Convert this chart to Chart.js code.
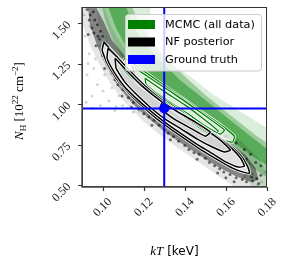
<!DOCTYPE html>
<html><head><meta charset="utf-8">
<script src="https://cdn.jsdelivr.net/npm/chart.js@4"></script>
<style>html,body{margin:0;padding:0;background:#fff}canvas{display:block}</style>
</head><body>
<canvas id="c" width="287" height="270"></canvas>
<script>
// ---------- axes ----------
const xRange = [0.09, 0.18];
const yRange = [0.488, 1.60];
const xTicks = [0.10, 0.12, 0.14, 0.16, 0.18];
const yTicks = [0.50, 0.75, 1.00, 1.25, 1.50];
const xTickLabels = ['0.10', '0.12', '0.14', '0.16', '0.18'];
const yTickLabels = ['0.50', '0.75', '1.00', '1.25', '1.50'];
const legendLabels = ['MCMC (all data)', 'NF posterior', 'Ground truth'];

// ---------- ground truth ----------
const truthKT = 0.13;
const truthNH = 0.973;

// ---------- MCMC sample cloud (kT, NH) ----------
const mcmcCloudFaint = [[0.0968,1.599],[0.1232,1.599],[0.1232,1.395],[0.1354,1.235],[0.1451,1.148],[0.1534,1.062],[0.1646,0.975],[0.1744,0.895],[0.182,0.840],[0.182,0.48],[0.1729,0.488],[0.1671,0.580],[0.1598,0.679],[0.1500,0.778],[0.1402,0.864],[0.1305,0.951],[0.1207,1.049],[0.1124,1.160],[0.1061,1.272],[0.1012,1.395],[0.0978,1.506]];
const mcmcCloudMid = [[0.0998,1.599],[0.1144,1.599],[0.1183,1.488],[0.1280,1.321],[0.1388,1.185],[0.1500,1.056],[0.1622,0.932],[0.1744,0.809],[0.182,0.741],[0.182,0.531],[0.1744,0.593],[0.1661,0.685],[0.1573,0.778],[0.1476,0.864],[0.1378,0.951],[0.1280,1.037],[0.1183,1.148],[0.1105,1.272],[0.1046,1.407],[0.1012,1.519]];
const mcmcCloudDense = [[0.1027,1.599],[0.1115,1.599],[0.1159,1.457],[0.1256,1.302],[0.1378,1.148],[0.1500,1.025],[0.1622,0.901],[0.1744,0.778],[0.182,0.704],[0.182,0.605],[0.1720,0.685],[0.1622,0.778],[0.1515,0.877],[0.1407,0.975],[0.1305,1.074],[0.1207,1.198],[0.1124,1.333],[0.1066,1.469]];
const mcmcStray = [[0.0915,1.42],[0.0935,1.31],[0.0958,1.22],[0.0925,1.18],[0.0975,1.12],[0.0948,1.05],[0.1002,1.08],[0.1030,1.02],[0.0990,0.99],[0.1065,0.985],[0.1098,0.99],[0.1120,0.975],[0.0920,1.01],[0.0965,1.28],[0.1010,1.18],[0.1045,1.10],[0.0940,1.48],[0.0910,1.55],[0.1150,0.95],[0.1080,1.05],[0.0985,1.36],[0.0930,1.25],[0.1060,0.96],[0.0950,0.975],[0.1180,0.955],[0.1690,0.55],[0.1730,0.57],[0.1775,0.52],[0.1790,0.58],[0.1755,0.50]];

// ---------- NF sample cloud ----------
const nfCloudFaint = [[0.089,1.60],[0.1007,1.599],[0.1046,1.469],[0.1095,1.364],[0.1183,1.241],[0.1280,1.117],[0.1378,1.025],[0.1476,0.944],[0.1583,0.852],[0.1680,0.765],[0.1759,0.667],[0.1798,0.580],[0.1798,0.48],[0.1651,0.48],[0.1563,0.556],[0.1466,0.642],[0.1368,0.728],[0.1280,0.809],[0.1193,0.901],[0.1115,1.000],[0.1046,1.111],[0.0988,1.235],[0.0939,1.364],[0.0905,1.488]];
const nfCloudDense = [[0.0968,1.599],[0.1007,1.506],[0.1046,1.395],[0.1105,1.302],[0.1168,1.179],[0.1241,1.086],[0.1315,1.012],[0.1388,0.951],[0.1466,0.889],[0.1544,0.827],[0.1622,0.759],[0.1695,0.685],[0.1744,0.605],[0.1759,0.531],[0.1720,0.519],[0.1646,0.556],[0.1563,0.611],[0.1476,0.679],[0.1388,0.753],[0.1305,0.827],[0.1222,0.914],[0.1144,1.006],[0.1076,1.111],[0.1017,1.235],[0.0973,1.364],[0.0939,1.488],[0.0929,1.599]];
const nfStray = [[0.0925,1.585],[0.0940,1.55],[0.0955,1.57],[0.0962,1.52],[0.0975,1.49],[0.0948,1.47],[0.0990,1.45],[0.1000,1.42],[0.0985,1.40],[0.1015,1.38],[0.0930,1.43],[0.0968,1.36],[0.1000,1.30],[0.1020,1.26],[0.1010,1.22],[0.1045,1.19],[0.1060,1.15],[0.1075,1.12],[0.1100,1.09],[0.1095,1.05],[0.1125,1.04],[0.1150,1.01],[0.1140,0.98],[0.1175,0.97],[0.1200,0.94],[0.1225,0.92],[0.1250,0.90],[0.1240,0.87],[0.1275,0.87],[0.1300,0.84],[0.1320,0.82],[0.1345,0.80],[0.1330,0.78],[0.1370,0.77],[0.1400,0.745],[0.1420,0.72],[0.1445,0.70],[0.1470,0.69],[0.1460,0.66],[0.1500,0.665],[0.1520,0.64],[0.1545,0.62],[0.1570,0.60],[0.1590,0.58],[0.1560,0.575],[0.1620,0.565],[0.1650,0.545],[0.1680,0.535],[0.1700,0.52],[0.1730,0.525],[0.1750,0.54],[0.1770,0.56],[0.1760,0.51],[0.1640,0.52],[0.1600,0.545],[0.1600,0.80],[0.1650,0.76],[0.1690,0.72],[0.1720,0.69],[0.1660,0.70],[0.1580,0.83],[0.1745,0.64],[0.1700,0.66],[0.1770,0.62],[0.1630,0.73],[0.0935,1.52],[0.0958,1.44],[0.0978,1.42],[0.1005,1.35],[0.1030,1.30],[0.1040,1.24],[0.1068,1.21],[0.1085,1.16],[0.1110,1.12],[0.1130,1.08],[0.1160,1.05],[0.1190,1.00],[0.1215,0.975],[0.1265,0.93],[0.1290,0.895],[0.1335,0.86],[0.1375,0.83],[0.1410,0.79],[0.1450,0.76],[0.1490,0.73],[0.1530,0.70],[0.1575,0.66],[0.1615,0.62],[0.1655,0.59],[0.1700,0.57],[0.1725,0.55]];

// ---------- NF posterior contours ----------
const nfContour4 = [[0.1007,1.383],[0.1051,1.321],[0.1105,1.247],[0.1168,1.160],[0.1241,1.074],[0.1315,1.000],[0.1388,0.938],[0.1466,0.877],[0.1544,0.815],[0.1612,0.753],[0.1671,0.685],[0.1705,0.617],[0.1715,0.574],[0.1685,0.580],[0.1632,0.605],[0.1563,0.654],[0.1490,0.710],[0.1417,0.772],[0.1339,0.840],[0.1266,0.907],[0.1193,0.988],[0.1124,1.074],[0.1066,1.160],[0.1022,1.253],[0.0998,1.333]];
const nfContour3 = [[0.1027,1.346],[0.1076,1.284],[0.1134,1.204],[0.1198,1.123],[0.1271,1.043],[0.1344,0.975],[0.1417,0.914],[0.1495,0.852],[0.1568,0.790],[0.1627,0.728],[0.1671,0.667],[0.1690,0.617],[0.1661,0.611],[0.1602,0.642],[0.1539,0.691],[0.1466,0.747],[0.1393,0.809],[0.1315,0.877],[0.1241,0.951],[0.1168,1.031],[0.1105,1.111],[0.1056,1.198],[0.1022,1.284]];
const nfContour2 = [[0.1061,1.284],[0.1124,1.198],[0.1193,1.111],[0.1271,1.031],[0.1349,0.963],[0.1427,0.901],[0.1505,0.840],[0.1573,0.778],[0.1622,0.716],[0.1593,0.704],[0.1534,0.735],[0.1461,0.784],[0.1383,0.846],[0.1305,0.907],[0.1232,0.981],[0.1163,1.062],[0.1105,1.142],[0.1066,1.222]];
const nfContour1 = [[0.1290,1.012],[0.1368,0.951],[0.1451,0.889],[0.1524,0.827],[0.1500,0.802],[0.1427,0.852],[0.1349,0.907],[0.1280,0.975]];

// ---------- MCMC contours ----------
const mcmcContour3 = [[0.1110,1.284],[0.1207,1.198],[0.1305,1.111],[0.1402,1.025],[0.1500,0.938],[0.1583,0.864],[0.1641,0.802],[0.1632,0.765],[0.1563,0.790],[0.1476,0.852],[0.1388,0.926],[0.1295,1.006],[0.1207,1.093],[0.1124,1.185],[0.1085,1.247]];
const mcmcContour2 = [[0.1144,1.235],[0.1232,1.160],[0.1329,1.080],[0.1427,0.994],[0.1515,0.914],[0.1593,0.840],[0.1573,0.815],[0.1500,0.864],[0.1417,0.938],[0.1320,1.019],[0.1232,1.099],[0.1159,1.173]];
const mcmcContour1 = [[0.1207,1.160],[0.1305,1.074],[0.1402,0.994],[0.1500,0.901],[0.1563,0.833],[0.1544,0.815],[0.1476,0.864],[0.1388,0.951],[0.1290,1.037],[0.1212,1.123]];

// ---------- colours ----------
const GREEN = '#008000', BLUE = '#0000ff';

const layers = [];
function toXY(pts, close) {
  const d = pts.map(p => ({x: p[0], y: p[1]}));
  if (close) d.push({x: pts[0][0], y: pts[0][1]});
  return d;
}
function polyFill(pts, color) {
  layers.push({type: 'line', data: toXY(pts, true), borderWidth: 0, borderColor: 'rgba(0,0,0,0)',
    backgroundColor: color, fill: 'shape', pointRadius: 0, tension: 0});
}
function polyLine(pts, color, w) {
  layers.push({type: 'line', data: toXY(pts, true), borderWidth: w, borderColor: color,
    fill: false, pointRadius: 0, tension: 0.15, borderJoinStyle: 'round'});
}
function dots(pts, color, r) {
  layers.push({type: 'line', data: toXY(pts, false), showLine: false, pointRadius: r,
    pointBorderWidth: 0, pointBackgroundColor: color, pointBorderColor: color});
}

polyFill(mcmcCloudFaint, 'rgba(0,128,0,0.14)');
polyFill(mcmcCloudMid, 'rgba(0,128,0,0.30)');
polyFill(mcmcCloudDense, 'rgba(0,128,0,0.42)');
dots(mcmcStray, 'rgba(0,128,0,0.25)', 1.4);
polyFill(nfCloudFaint, 'rgba(0,0,0,0.10)');
polyFill(nfCloudDense, 'rgba(0,0,0,0.42)');
dots(nfStray, 'rgba(0,0,0,0.55)', 1.5);
polyFill(mcmcContour3, 'rgba(255,255,255,0.75)');
polyFill(nfContour4, '#e0e0e0');
polyFill(nfContour2, '#d2d2d2');
[mcmcContour3, mcmcContour2, mcmcContour1].forEach(c => { polyLine(c, 'rgba(255,255,255,0.9)', 3); polyLine(c, GREEN, 1.3); });
[nfContour4, nfContour3, nfContour2, nfContour1].forEach(c => { polyLine(c, 'rgba(255,255,255,0.9)', 3.2); polyLine(c, '#000', 1.5); });
layers.push({type: 'line', data: [{x: xRange[0], y: truthNH}, {x: xRange[1], y: truthNH}], borderColor: BLUE, borderWidth: 2, pointRadius: 0, fill: false});
layers.push({type: 'line', data: [{x: truthKT, y: yRange[0]}, {x: truthKT, y: yRange[1]}], borderColor: BLUE, borderWidth: 2, pointRadius: 0, fill: false});
layers.push({type: 'line', data: [{x: truthKT, y: truthNH}], showLine: false, pointRadius: 5, pointBackgroundColor: BLUE, pointBorderWidth: 0});
layers.forEach((d, i) => { d.order = 1000 - i; });

const SERIF = '"Liberation Serif", "DejaVu Serif", serif';
const SANS = '"DejaVu Sans", sans-serif';

function drawRuns(ctx, runs, cx, baseY) {
  let total = 0;
  runs.forEach(r => { ctx.font = r.font; r.w = ctx.measureText(r.t).width; total += r.w; });
  let x = cx - total / 2;
  runs.forEach(r => { ctx.font = r.font; ctx.fillText(r.t, x, baseY + (r.dy || 0)); x += r.w; });
}

const decor = {
  id: 'decor',
  afterDraw(chart) {
    const ctx = chart.ctx, a = chart.chartArea;
    const xs = chart.scales.x, ys = chart.scales.y;
    ctx.save();
    // frame
    ctx.strokeStyle = '#333'; ctx.lineWidth = 1;
    ctx.strokeRect(a.left + 0.5, a.top + 0.5, a.right - a.left - 1, a.bottom - a.top - 1);
    ctx.lineWidth = 1.4; ctx.strokeStyle = '#444';
    ctx.beginPath(); ctx.moveTo(a.left, a.top); ctx.lineTo(a.left, a.bottom); ctx.lineTo(a.right, a.bottom); ctx.stroke();
    // tick marks
    ctx.lineWidth = 1.2; ctx.strokeStyle = '#333';
    ctx.beginPath();
    xTicks.forEach(v => { const px = Math.round(xs.getPixelForValue(v)) + 0.5; ctx.moveTo(px, a.bottom); ctx.lineTo(px, a.bottom + 4); });
    yTicks.forEach(v => { const py = Math.round(ys.getPixelForValue(v)) + 0.5; ctx.moveTo(a.left, py); ctx.lineTo(a.left - 4, py); });
    ctx.stroke();
    // tick labels
    ctx.fillStyle = '#222'; ctx.font = '12px ' + SERIF;
    ctx.textAlign = 'right'; ctx.textBaseline = 'middle';
    xTicks.forEach((v, i) => {
      const px = xs.getPixelForValue(v);
      ctx.save(); ctx.translate(px + 7.5, a.bottom + 13); ctx.rotate(-Math.PI / 4);
      ctx.fillText(xTickLabels[i], 0, 0); ctx.restore();
    });
    yTicks.forEach((v, i) => {
      const py = ys.getPixelForValue(v);
      ctx.save(); ctx.translate(a.left - 13, py); ctx.rotate(-Math.PI / 4);
      ctx.fillText(yTickLabels[i], 0, 0); ctx.restore();
    });
    // axis titles
    ctx.textAlign = 'left'; ctx.textBaseline = 'alphabetic'; ctx.fillStyle = '#000';
    drawRuns(ctx, [
      {t: 'kT', font: 'italic 13px ' + SERIF},
      {t: ' [keV]', font: '12px ' + SANS}
    ], (a.left + a.right) / 2, 255);
    ctx.save(); ctx.translate(23, 101); ctx.rotate(-Math.PI / 2);
    drawRuns(ctx, [
      {t: 'N', font: 'italic 13px ' + SERIF},
      {t: 'H', font: '9px ' + SERIF, dy: 2.5},
      {t: ' [10', font: '13px ' + SERIF},
      {t: '22', font: '9px ' + SERIF, dy: -5},
      {t: ' cm', font: '13px ' + SERIF},
      {t: '\u22122', font: '9px ' + SERIF, dy: -5},
      {t: ']', font: '13px ' + SERIF}
    ], 0, 0);
    ctx.restore();
    // legend
    const lx = 125.5, ly = 14.5, lw = 136, lh = 56.5;
    ctx.beginPath();
    ctx.roundRect(lx, ly, lw, lh, 3);
    ctx.fillStyle = 'rgba(255,255,255,0.8)'; ctx.fill();
    ctx.strokeStyle = '#cccccc'; ctx.lineWidth = 1; ctx.stroke();
    const cols = [GREEN, '#000', BLUE];
    const rowsY = [24.5, 42, 59.5];
    ctx.font = '11.3px ' + SANS; ctx.textBaseline = 'middle';
    legendLabels.forEach((t, i) => {
      ctx.fillStyle = cols[i]; ctx.fillRect(128, rowsY[i] - 4.5, 27, 9);
      ctx.fillStyle = '#000'; ctx.fillText(t, 165, rowsY[i] + 0.5);
    });
    ctx.restore();
  }
};

new Chart(document.getElementById('c'), {
  type: 'line',
  data: {datasets: layers},
  options: {
    responsive: false, animation: false, devicePixelRatio: 1,
    layout: {padding: {left: 0, right: 20, top: 7, bottom: 0}},
    plugins: {legend: {display: false}, tooltip: {enabled: false}},
    elements: {point: {hoverRadius: 0}},
    scales: {
      x: {type: 'linear', min: xRange[0], max: xRange[1],
        afterBuildTicks: s => { s.ticks = xTicks.map(v => ({value: v})); },
        afterFit: s => { s.height = 83; },
        ticks: {display: false},
        grid: {display: false},
        border: {display: false}},
      y: {type: 'linear', min: yRange[0], max: yRange[1],
        afterBuildTicks: s => { s.ticks = yTicks.map(v => ({value: v})); },
        afterFit: s => { s.width = 82; },
        ticks: {display: false},
        grid: {display: false},
        border: {display: false}}
    }
  },
  plugins: [decor]
});
</script>
</body></html>
